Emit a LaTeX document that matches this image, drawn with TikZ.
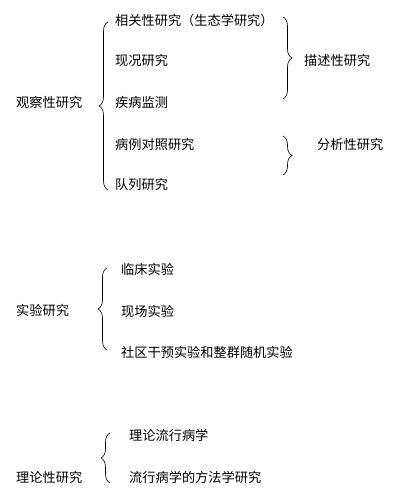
\documentclass[tikz,border=0pt]{standalone}
\usepackage{fontspec}
\setmainfont{Noto Sans CJK SC}
\usetikzlibrary{decorations.pathreplacing}

\begin{document}
\begin{tikzpicture}[x=1pt, y=1pt,
  item/.style={anchor=west, inner sep=0pt, font=\fontsize{13.2}{15}\selectfont},
  lbrace/.style={draw, line width=0.6pt, decorate, decoration={brace, amplitude=9pt}},
  rbrace/.style={draw, line width=0.6pt, decorate, decoration={brace, amplitude=9pt}}]
  \useasboundingbox (0,0) rectangle (400,492);
  % observational studies
  \node [item] (obs) at (16,390) {观察性研究};
  \node [item] (eco) at (115,472) {相关性研究（生态学研究）};
  \node [item] (cur) at (115,432) {现况研究};
  \node [item] (surv) at (115,390) {疾病监测};
  \node [item] (cc) at (115,348) {病例对照研究};
  \node [item] (coh) at (115,308) {队列研究};
  \node [item] (desc) at (304,432) {描述性研究};
  \node [item] (anal) at (317,348) {分析性研究};
  \draw [lbrace] (108,302) -- (108,470);
  \draw [rbrace] (283,475) -- (283,393);
  \draw [rbrace] (283,356) -- (283,317);
  % experimental studies
  \node [item] (expt) at (16,182) {实验研究};
  \node [item] (clin) at (121,223) {临床实验};
  \node [item] (field) at (121,181) {现场实验};
  \node [item] (comm) at (121,140) {社区干预实验和整群随机实验};
  \draw [lbrace] (107,142) -- (107,224);
  % theoretical studies
  \node [item] (theo) at (16,15) {理论性研究};
  \node [item] (theoepi) at (129,57) {理论流行病学};
  \node [item] (meth) at (129,15) {流行病学的方法学研究};
  \draw [lbrace] (110,9) -- (110,59);
\end{tikzpicture}
\end{document}
